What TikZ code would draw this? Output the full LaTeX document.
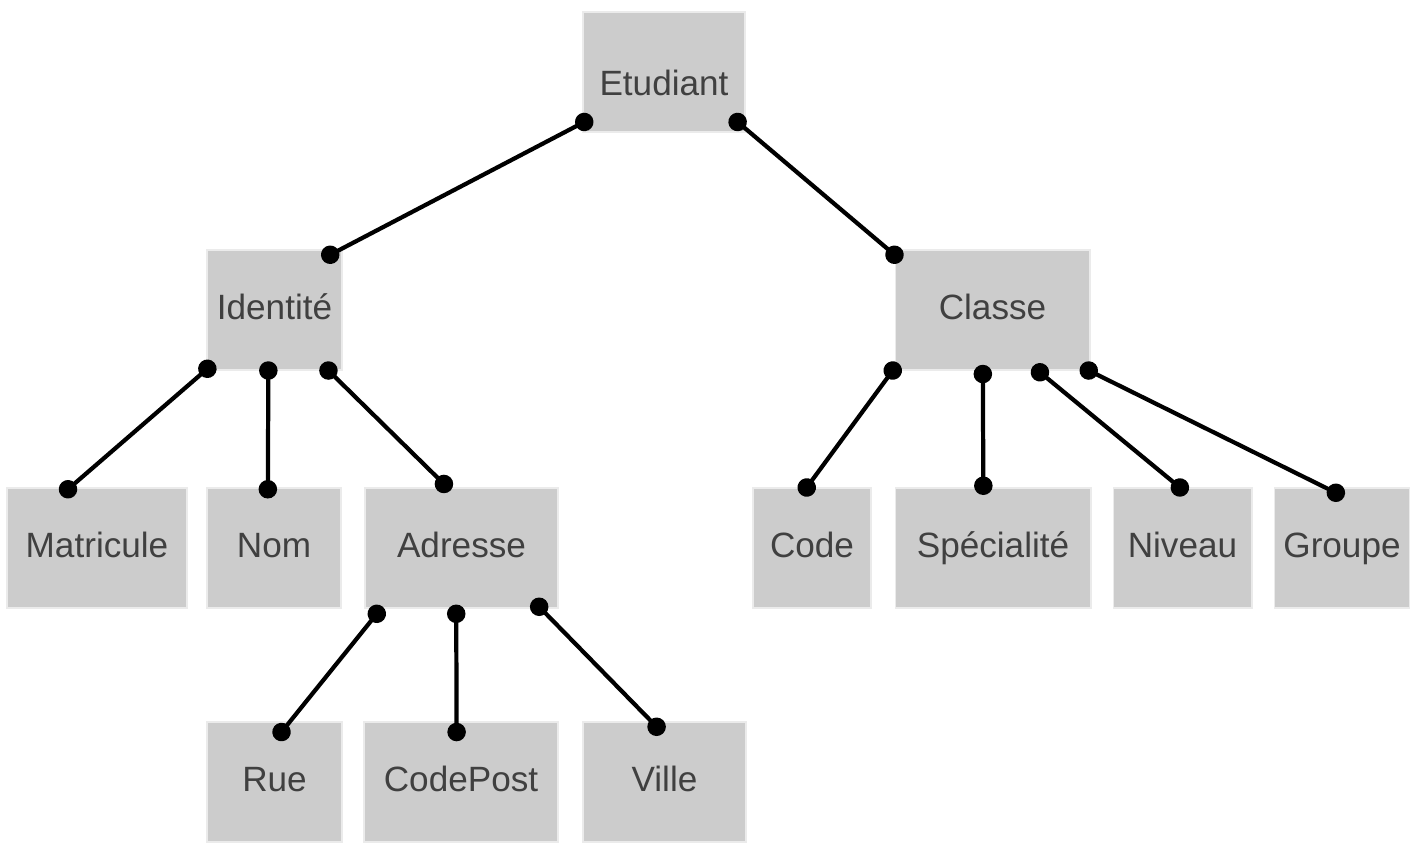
\documentclass[tikz,border=0pt]{standalone}
\usepackage{fontspec}
\setmainfont{Liberation Sans}
\usetikzlibrary{arrows.meta}

\tikzset{
  champ/.style={fill=black!20, draw=black!8, line width=0.6pt, text=black!75,
    minimum height=2.4cm, inner sep=0pt, text height=15pt, text depth=4pt,
    font=\fontsize{20}{24}\selectfont},
  lien/.style={line width=2.4pt, {Circle[length=10.5pt]}-{Circle[length=10.5pt]},
    shorten <=-5.25pt, shorten >=-5.25pt},
}

\begin{document}
\begin{tikzpicture}[x=0.02cm, y=-0.02cm]
                \useasboundingbox (0,0) rectangle (1416,842);

                % racine
                \node[champ, minimum width=3.24cm, text height=31pt] (etudiant) at (664,72) {Etudiant};

                % niveau 1
                \node[champ, minimum width=2.7cm] (identite) at (274.5,310) {Identité};
                \node[champ, minimum width=3.9cm] (classe) at (992.5,310) {Classe};

                % niveau 2
                \node[champ, minimum width=3.6cm] (matricule) at (97,548) {Matricule};
                \node[champ, minimum width=2.68cm] (nom) at (274,548) {Nom};
                \node[champ, minimum width=3.86cm] (adresse) at (461.5,548) {Adresse};
                \node[champ, minimum width=2.36cm] (code) at (812,548) {Code};
                \node[champ, minimum width=3.92cm] (specialite) at (993,548) {Spécialité};
                \node[champ, minimum width=2.78cm] (niveau) at (1182.5,548) {Niveau};
                \node[champ, minimum width=2.7cm] (groupe) at (1342,548) {Groupe};

                % niveau 3
                \node[champ, minimum width=2.7cm] (rue) at (274.5,782) {Rue};
                \node[champ, minimum width=3.88cm] (codepost) at (461,782) {CodePost};
                \node[champ, minimum width=3.26cm] (ville) at (664.5,782) {Ville};

                % liens depuis Etudiant
                \draw[lien] ([xshift=1pt,yshift=6pt]etudiant.south west) -- ([xshift=-7pt,yshift=-3pt]identite.north east);
                \draw[lien] ([xshift=-4.5pt,yshift=6pt]etudiant.south east) -- ([yshift=-3pt]classe.north west);

                % liens depuis Identite
                \draw[lien] ([xshift=0.5pt,yshift=1pt]identite.south west) -- ([xshift=-16.5pt,yshift=-1pt]matricule.north);
                \draw[lien] ([xshift=-3.5pt]identite.south) -- ([xshift=-3.5pt,yshift=-1pt]nom.north);
                \draw[lien] ([xshift=-8pt]identite.south east) -- ([xshift=-10pt,yshift=2pt]adresse.north);

                % liens depuis Classe
                \draw[lien] ([xshift=-1pt]classe.south west) -- ([xshift=-3pt]code.north);
                \draw[lien] ([xshift=-5.5pt,yshift=-2pt]classe.south) -- ([xshift=-5.5pt,yshift=1pt]specialite.north);
                \draw[lien] ([xshift=27pt,yshift=-1pt]classe.south) -- ([xshift=-1.5pt]niveau.north);
                \draw[lien] ([xshift=-1pt]classe.south east) -- ([xshift=-3.5pt,yshift=-3pt]groupe.north);

                % liens depuis Adresse
                \draw[lien] ([xshift=7pt,yshift=-3pt]adresse.south west) -- ([xshift=4pt,yshift=-6pt]rue.north);
                \draw[lien] ([xshift=-3pt,yshift=-3pt]adresse.south) -- ([xshift=-2.5pt,yshift=-6pt]codepost.north);
                \draw[lien] ([xshift=-11pt,yshift=1pt]adresse.south east) -- ([xshift=-4.5pt,yshift=-3pt]ville.north);

\end{tikzpicture}
\end{document}
